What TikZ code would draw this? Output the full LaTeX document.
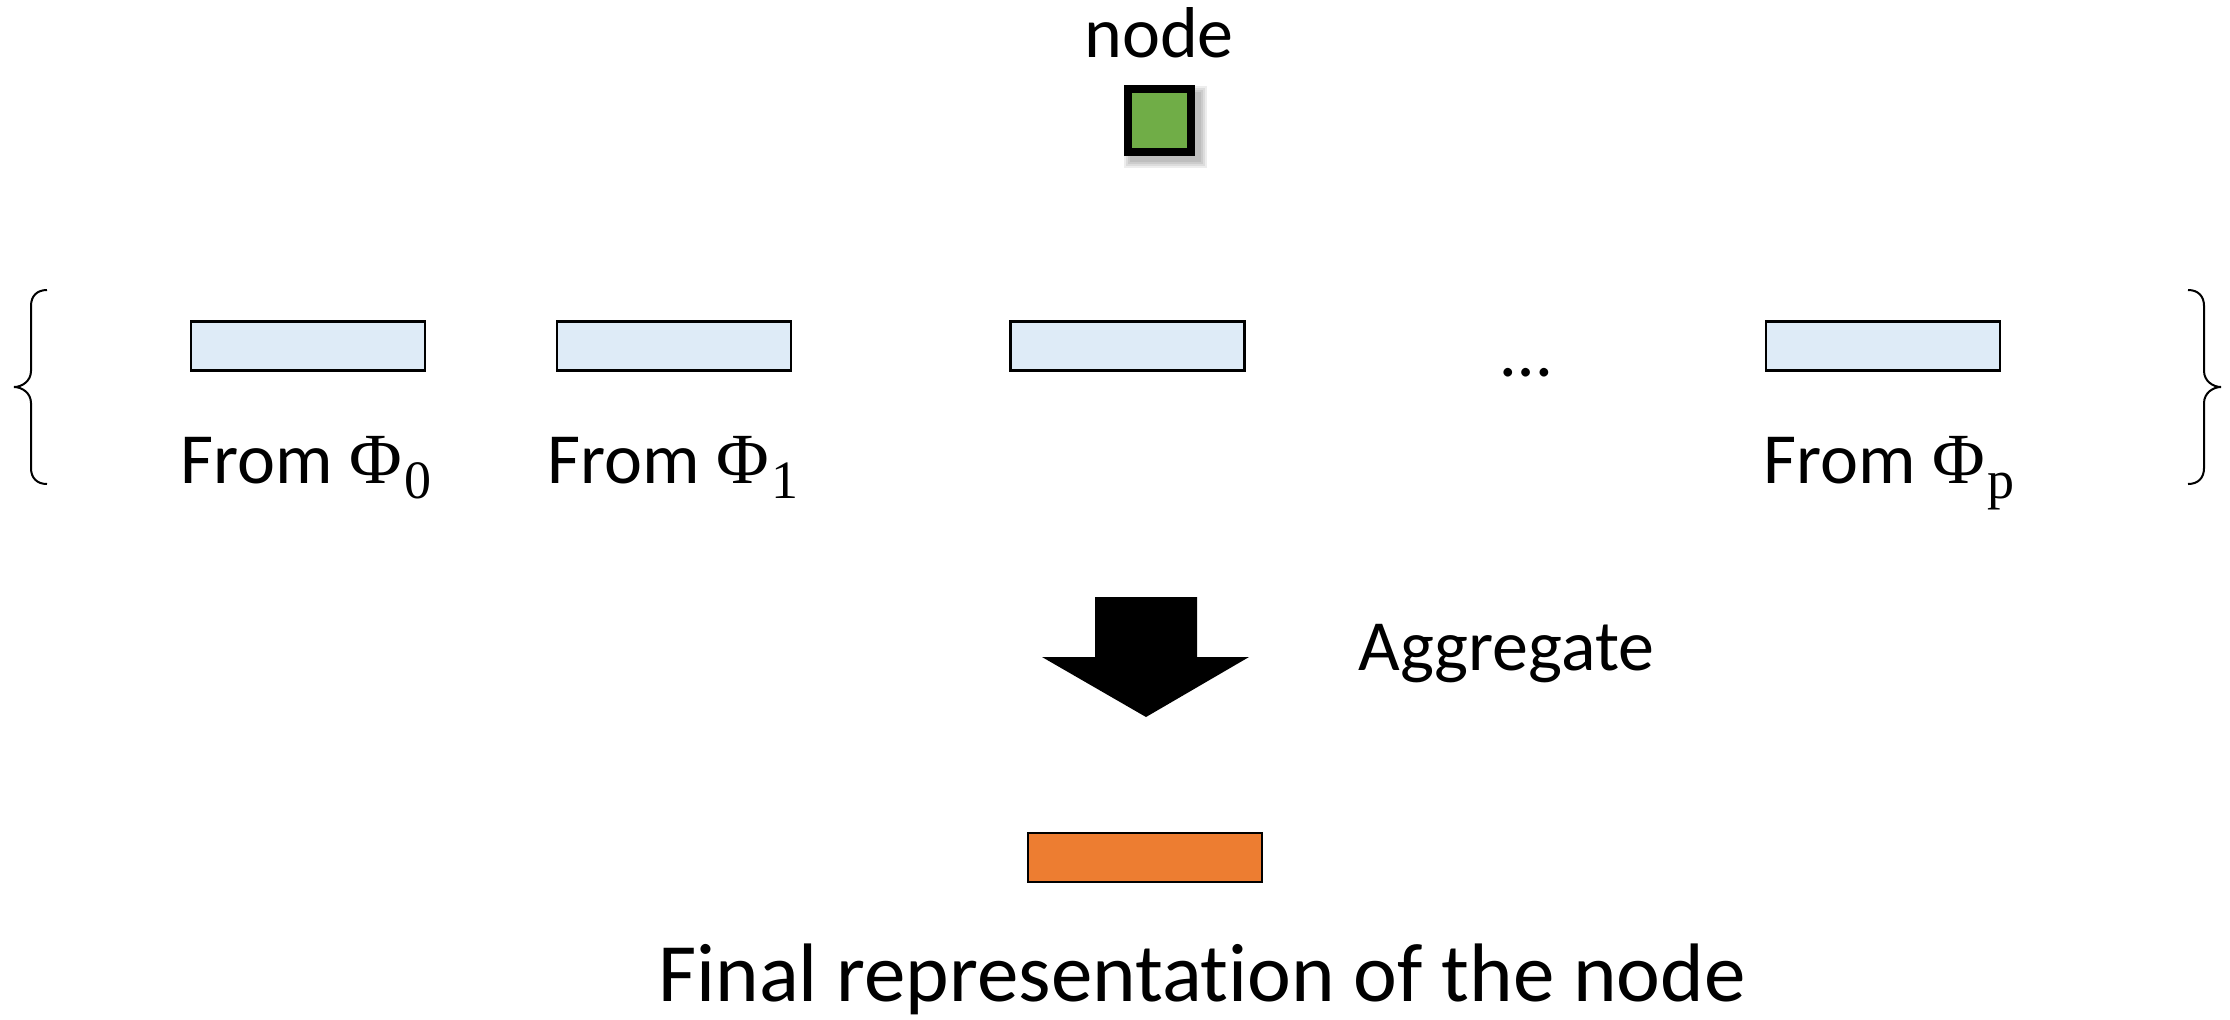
\documentclass[tikz,border=0pt]{standalone}
\usepackage{fontspec}
\setmainfont{Carlito}[Ligatures=NoCommon]
\newfontfamily\grkfont{Liberation Serif}
\definecolor{nodegreen}{HTML}{70AD47}
\definecolor{barblue}{HTML}{DEEBF7}
\definecolor{barorange}{HTML}{ED7D31}
% meta-path symbol with an upright subscript
\newcommand{\metapath}[1]{{\grkfont Φ}\kern1pt\raisebox{-7.5pt}{\fontsize{27}{30}\selectfont\grkfont #1}}
\begin{document}
\begin{tikzpicture}[x=0.5pt,y=-0.5pt,
  lbl/.style={font=\fontsize{36}{43}\selectfont, inner sep=0pt, anchor=base},
  biglbl/.style={font=\fontsize{41.5}{50}\selectfont, inner sep=0pt, anchor=base west},
  bar/.style={draw=black, line width=1.2pt, minimum width=117pt, minimum height=24.5pt, inner sep=0pt},
  bluebar/.style={bar, fill=barblue},
  orangebar/.style={bar, fill=barorange},
  greenbox/.style={draw=black, line width=4pt, fill=nodegreen, minimum size=31.5pt, inner sep=0pt},
  bracepath/.style={draw=black, line width=1pt},
  blockarrow/.style={fill=black}]
\useasboundingbox (0,0) rectangle (2230,1019);

% title and the node itself, with a soft shadow
\node[lbl] (title) at (1159,57) {node};
\foreach \g in {0,2,4,6}
  \fill[black, opacity=0.07] (1130-\g,92-\g) rectangle (1201+\g,162+\g);
\node[greenbox] (sq) at (1159.5,120) {};

% one representation per meta-path
\node[bluebar] (b0) at (308,346) {};
\node[bluebar] (b1) at (674,346) {};
\node[bluebar] (b2) at (1127.5,346) {};
\node[bluebar] (bp) at (1883,346) {};
\node[lbl] (dots) at (1526,376) {…};

\node[lbl] (l0) at (306,483) {From \metapath{0}};
\node[lbl] (l1) at (673,483) {From \metapath{1}};
\node[lbl] (lp) at (1889,483) {From \metapath{p}};

% curly braces around the set
\draw[bracepath] (47,290) .. controls (37,290) and (31,296) .. (31,306)
  -- (31,371) .. controls (31,381) and (22,387) .. (14,387)
  .. controls (22,387) and (31,393) .. (31,403)
  -- (31,468) .. controls (31,478) and (37,484) .. (47,484);
\draw[bracepath] (2188,290) .. controls (2198,290) and (2204,296) .. (2204,306)
  -- (2204,371) .. controls (2204,381) and (2213,387) .. (2221,387)
  .. controls (2213,387) and (2204,393) .. (2204,403)
  -- (2204,468) .. controls (2204,478) and (2198,484) .. (2188,484);

% aggregation step
\fill[blockarrow] (1095,597) -- (1197,597) -- (1197,657) -- (1249,657)
  -- (1146,717) -- (1042,657) -- (1095,657) -- cycle;
\node[lbl, anchor=base west] (agg) at (1358,670) {Aggregate};

% result
\node[orangebar] (out) at (1145,857.5) {};
\node[biglbl] (final) at (658,1001) {Final representation of the node};
\end{tikzpicture}
\end{document}
